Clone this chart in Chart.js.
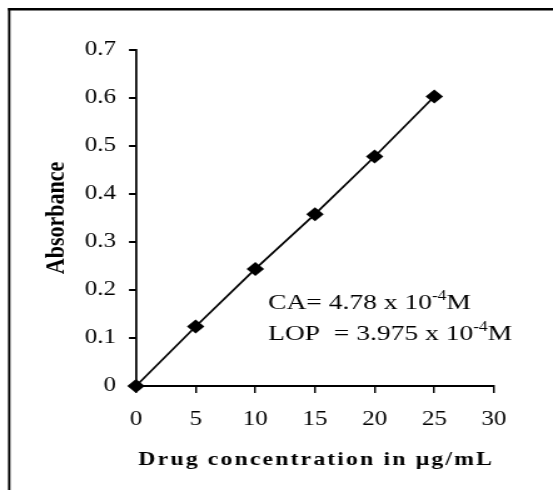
<!DOCTYPE html>
<html>
<head>
<meta charset="utf-8">
<script src="https://cdn.jsdelivr.net/npm/chart.js@4.4.1/dist/chart.umd.min.js"></script>
<style>
  html, body { margin: 0; padding: 0; background: #fff; }
</style>
</head>
<body>
<canvas id="c" width="442" height="490" style="display:block;width:553px;height:490px"></canvas>
<script>
// ---- data ----
const concentrations = [0, 5, 10, 15, 20, 25];
const absorbance = [0, 0.124, 0.244, 0.358, 0.478, 0.603];
const xTickLabels = ['0', '5', '10', '15', '20', '25', '30'];
const yTickLabels = ['0', '0.1', '0.2', '0.3', '0.4', '0.5', '0.6', '0.7'];
const xTitle = 'Drug concentration in \u00B5g/mL';
const yTitle = 'Absorbance';
const noteLines = [
  ['CA= 4.78 x 10', '-4', 'M'],
  ['LOP  = 3.975 x 10', '-4', 'M']
];

const S = 553 / 442; // horizontal stretch of the picture
const SERIF = '"Liberation Serif", "Times New Roman", serif';

const decor = {
  id: 'decor',
  afterDraw(chart) {
    const ctx = chart.ctx;
    ctx.save();
    // frame (top and left edges)
    ctx.fillStyle = '#000';
    ctx.fillRect(8 / S, 8, 442, 2.5);
    ctx.fillRect(8 / S, 8, 2.4 / S, 490);

    // x-axis title with letter spacing
    ctx.font = 'bold 19px ' + SERIF;
    ctx.textBaseline = 'alphabetic';
    ctx.textAlign = 'left';
    ctx.letterSpacing = '1.7px';
    const w = ctx.measureText(xTitle).width;
    const cx = (chart.chartArea.left + chart.chartArea.right) / 2;
    ctx.fillText(xTitle, cx - w / 2 + 1, 465);
    ctx.letterSpacing = '0px';

    // annotation
    const x0 = chart.scales.x.getPixelForValue(0) + (268 - 136) / S;
    const baselines = [309, 340];
    noteLines.forEach((parts, i) => {
      let x = x0;
      const y = baselines[i];
      ctx.font = '22px ' + SERIF;
      ctx.fillText(parts[0], x, y);
      x += ctx.measureText(parts[0]).width;
      ctx.font = '14px ' + SERIF;
      ctx.fillText(parts[1], x, y - 9);
      x += ctx.measureText(parts[1]).width;
      ctx.font = '22px ' + SERIF;
      ctx.fillText(parts[2], x, y);
    });
    ctx.restore();
  }
};

new Chart(document.getElementById('c'), {
  type: 'scatter',
  data: {
    datasets: [{
      data: concentrations.map((x, i) => ({ x: x, y: absorbance[i] })),
      showLine: true,
      borderColor: '#000',
      borderWidth: 1.7,
      backgroundColor: '#000',
      pointStyle: 'rectRot',
      pointRadius: 7,
      pointBorderWidth: 0,
      pointBackgroundColor: '#000',
      clip: false
    }]
  },
  options: {
    responsive: false,
    animation: false,
    events: [],
    layout: { padding: { left: 0, top: 50, right: 442 - 494 / S, bottom: 0 } },
    plugins: { legend: { display: false }, tooltip: { enabled: false } },
    scales: {
      x: {
        type: 'linear',
        min: 0, max: 30,
        afterFit(scale) { scale.height = 104; },
        afterBuildTicks(scale) { scale.ticks = xTickLabels.map(v => ({ value: Number(v) })); },
        ticks: {
          callback: (v, i) => xTickLabels[i],
          color: '#000',
          font: { family: SERIF, size: 20 },
          padding: 15,
          maxRotation: 0
        },
        grid: { drawOnChartArea: false, drawTicks: true, tickLength: 7, color: '#000', lineWidth: 1.8 / S },
        border: { display: true, color: '#000', width: 2 },
        title: { display: false }
      },
      y: {
        type: 'linear',
        min: 0, max: 0.7,
        afterFit(scale) { scale.width = 136 / S; },
        afterBuildTicks(scale) { scale.ticks = yTickLabels.map(v => ({ value: Number(v) })); },
        ticks: {
          callback: (v, i) => yTickLabels[i],
          color: '#000',
          font: { family: SERIF, size: 20 },
          padding: (129 - 116) / S
        },
        grid: { drawOnChartArea: false, drawTicks: true, tickLength: 7 / S, color: '#000', lineWidth: 2 },
        border: { display: true, color: '#000', width: 2.2 / S },
        title: {
          display: true,
          text: yTitle,
          color: '#000',
          font: { family: SERIF, size: 22, weight: 'bold' },
          padding: { top: 57 / S - 13.2, bottom: 0 }
        }
      }
    }
  },
  plugins: [decor]
});
</script>
</body>
</html>
